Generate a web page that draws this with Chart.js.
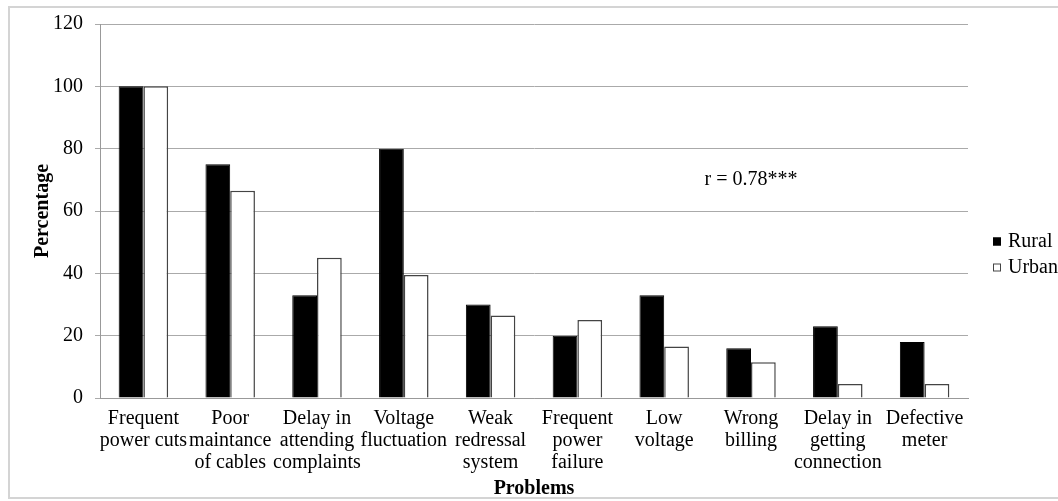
<!DOCTYPE html>
<html>
<head>
<meta charset="utf-8">
<script src="https://cdn.jsdelivr.net/npm/chart.js@4"></script>
<style>
	html, body { margin: 0; padding: 0; background: #fff; overflow: hidden; }
	#frame { position: absolute; left: 8px; top: 6px; width: 1080px; height: 489px; border: 2px solid #d4d4d4; }
	#wrap { position: absolute; left: 0; top: 0; width: 1075px; height: 501px; }
</style>
</head>
<body>
<div id="frame"></div>
<div id="wrap"><canvas id="myChart"></canvas></div>
<script>
// categories
const problems = [
	["Frequent", "power cuts"],
	["Poor", "maintance", "of cables"],
	["Delay in", "attending", "complaints"],
	["Voltage", "fluctuation"],
	["Weak", "redressal", "system"],
	["Frequent", "power", "failure"],
	["Low", "voltage"],
	["Wrong", "billing"],
	["Delay in", "getting", "connection"],
	["Defective", "meter"],
];
const rural = [100, 75, 33, 80, 30, 20, 33, 16, 23, 18];
const urban = [100, 66.5, 45, 39.5, 26.5, 25, 16.5, 11.5, 4.5, 4.5];
const yTicks = [0, 20, 40, 60, 80, 100, 120];
const note = "r = 0.78***";

const serif = "'Liberation Serif', 'Times New Roman', serif";

// r value text, placed through the scales
const notePlugin = {
	id: "note",
	afterDraw(chart) {
		const c = chart.ctx;
		const x = chart.scales.x.getPixelForValue(7);
		const y = chart.scales.y.getPixelForValue(70);
		c.save();
		c.font = "20px " + serif;
		c.fillStyle = "#000";
		c.textAlign = "center";
		c.textBaseline = "middle";
		c.fillText(note, x, y);
		c.restore();
	},
};

// legend on the right, excel style: small square + label
const sideLegend = {
	id: "sideLegend",
	afterDraw(chart) {
		const c = chart.ctx;
		const area = chart.chartArea;
		const sets = chart.data.datasets;
		const x = area.right + 25;
		const midY = chart.height / 2 + 4;
		c.save();
		c.font = "20px " + serif;
		c.textBaseline = "middle";
		sets.forEach(function (ds, i) {
			const y = midY + (i - (sets.length - 1) / 2) * 26;
			c.fillStyle = ds.backgroundColor;
			c.fillRect(x, y - 4, 8, 8);
			c.strokeStyle = ds.borderColor;
			c.lineWidth = 1;
			c.strokeRect(x + 0.5, y - 3.5, 7, 7);
			c.fillStyle = "#000";
			c.fillText(ds.label, x + 15, y);
		});
		c.restore();
	},
};

const ctx = document.getElementById("myChart").getContext("2d");
const myChart = new Chart(ctx, {
	type: "bar",
	data: {
		labels: problems,
		datasets: [
			{
				label: "Rural",
				data: rural,
				backgroundColor: "#000",
				borderColor: "#000",
				borderWidth: 1,
			},
			{
				label: "Urban",
				data: urban,
				backgroundColor: "#fff",
				borderColor: "#444",
				borderWidth: 1.5,
			},
		],
	},
	options: {
		responsive: true,
		maintainAspectRatio: false,
		animation: false,
		categoryPercentage: 0.57,
		barPercentage: 1,
		layout: {
			padding: { left: 31, top: 11, right: 107, bottom: 0 },
		},
		plugins: {
			legend: { display: false },
			tooltip: { enabled: false },
		},
		scales: {
			x: {
				grid: { display: false },
				border: { display: true, color: "#999" },
				ticks: {
					color: "#000",
					maxRotation: 0,
					autoSkip: false,
					padding: 2,
					font: { family: serif, size: 20, lineHeight: 1.1 },
				},
				title: {
					display: true,
					text: "Problems",
					color: "#000",
					padding: { top: 1, bottom: 0 },
					font: { family: serif, size: 20, weight: "bold" },
				},
			},
			y: {
				min: 0,
				max: 120,
				afterBuildTicks(axis) {
					axis.ticks = yTicks.map((v) => ({ value: v }));
				},
				afterFit(axis) {
					axis.width = 69;
				},
				grid: { color: "#aaa", tickLength: 5 },
				border: { display: true, color: "#999" },
				ticks: {
					color: "#000",
					padding: 12,
					font: { family: serif, size: 20 },
				},
				title: {
					display: true,
					text: "Percentage",
					color: "#000",
					padding: 0,
					font: { family: serif, size: 20, weight: "bold" },
				},
			},
		},
	},
	plugins: [notePlugin, sideLegend],
});
</script>
</body>
</html>
